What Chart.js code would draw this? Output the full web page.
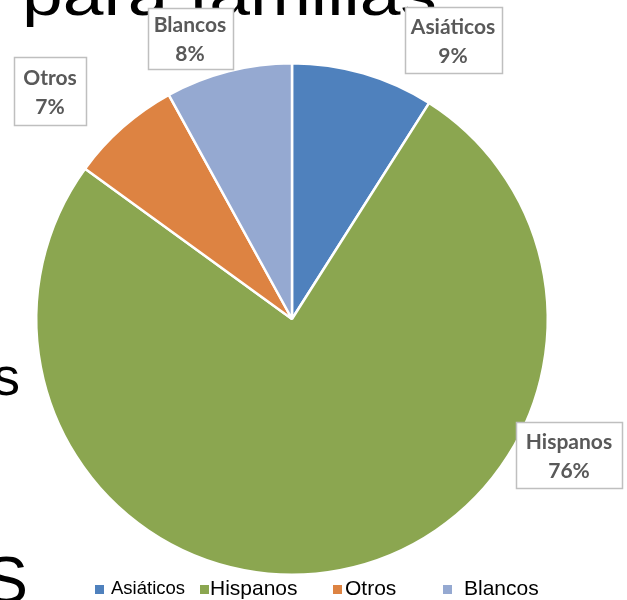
<!DOCTYPE html>
<html><head><meta charset="utf-8">
<script src="https://cdn.jsdelivr.net/npm/chart.js@4"></script>
<style>html,body{margin:0;padding:0;background:#fff;}#wrap{width:627px;height:600px;position:relative;}</style>
</head><body><div id="wrap"><canvas id="c" width="627" height="600"></canvas></div>
<script>
const categories = ["Asiáticos", "Hispanos", "Otros", "Blancos"];
const values = [9, 76, 7, 8];
const colors = ["#4F81BD", "#8BA650", "#DD8342", "#95A9D1"];
const percentLabels = ["9%", "76%", "7%", "8%"];

// label box placement (centre relative to pie centre), size
const labelBoxes = [
  {cx: 161, cy: -279, w: 97, h: 66},
  {cx: 277, cy: 136, w: 106, h: 66},
  {cx: -242, cy: -228, w: 72, h: 68},
  {cx: -102, cy: -281, w: 85, h: 61}
];

const backgroundText = {
  id: 'bgText',
  beforeDraw(chart) {
    const ctx = chart.ctx;
    ctx.save();
    ctx.fillStyle = '#000';
    ctx.textBaseline = 'alphabetic';
    ctx.save();
    ctx.translate(22, 15);
    ctx.scale(1.22, 1);
    ctx.font = '60px "Liberation Sans", Arial, sans-serif';
    ctx.fillText('para familias', 0, 0);
    ctx.restore();
    ctx.font = '54px "Liberation Sans", Arial, sans-serif';
    ctx.fillText('s', -7, 395);
    ctx.font = '66px "Liberation Sans", Arial, sans-serif';
    ctx.fillText('S', -16, 603);
    ctx.restore();
  }
};

const labelPlugin = {
  id: 'boxLabels',
  afterDraw(chart) {
    const ctx = chart.ctx;
    const arc = chart.getDatasetMeta(0).data[0];
    const x0 = arc.x, y0 = arc.y;
    ctx.save();
    categories.forEach((cat, i) => {
      const b = labelBoxes[i];
      const left = Math.round(x0 + b.cx - b.w / 2) + 0.5;
      const top = Math.round(y0 + b.cy - b.h / 2) + 0.5;
      ctx.fillStyle = '#fff';
      ctx.fillRect(left, top, b.w, b.h);
      ctx.strokeStyle = '#BFBFBF';
      ctx.lineWidth = 1.5;
      ctx.strokeRect(left, top, b.w, b.h);
      ctx.fillStyle = '#595959';
      ctx.font = 'bold 21px Lato, "Open Sans", sans-serif';
      ctx.textAlign = 'center';
      ctx.textBaseline = 'middle';
      ctx.fillText(cat, x0 + b.cx, y0 + b.cy - 13);
      ctx.fillText(percentLabels[i], x0 + b.cx, y0 + b.cy + 16);
    });
    ctx.restore();
  }
};

const legendPlugin = {
  id: 'customLegend',
  afterDraw(chart) {
    const ctx = chart.ctx;
    const items = [
      {sq: 95, tx: 111, size: 18.5},
      {sq: 200, tx: 210, size: 21},
      {sq: 333, tx: 345, size: 21},
      {sq: 443, tx: 464, size: 21}
    ];
    ctx.save();
    ctx.textBaseline = 'middle';
    ctx.textAlign = 'left';
    items.forEach((it, i) => {
      ctx.fillStyle = colors[i];
      ctx.fillRect(it.sq, 585, 9, 9);
      ctx.fillStyle = '#000';
      ctx.font = it.size + 'px "Liberation Sans", Arial, sans-serif';
      ctx.fillText(categories[i], it.tx, 589);
    });
    ctx.restore();
  }
};

new Chart(document.getElementById('c'), {
  type: 'pie',
  data: {
    labels: categories,
    datasets: [{
      data: values,
      backgroundColor: colors,
      borderColor: '#fff',
      borderWidth: 2.5
    }]
  },
  options: {
    responsive: false,
    animation: false,
    layout: {padding: {left: 35, right: 78, top: 62, bottom: 24}},
    plugins: {legend: {display: false}, tooltip: {enabled: false}}
  },
  plugins: [backgroundText, labelPlugin, legendPlugin]
});
</script></body></html>
